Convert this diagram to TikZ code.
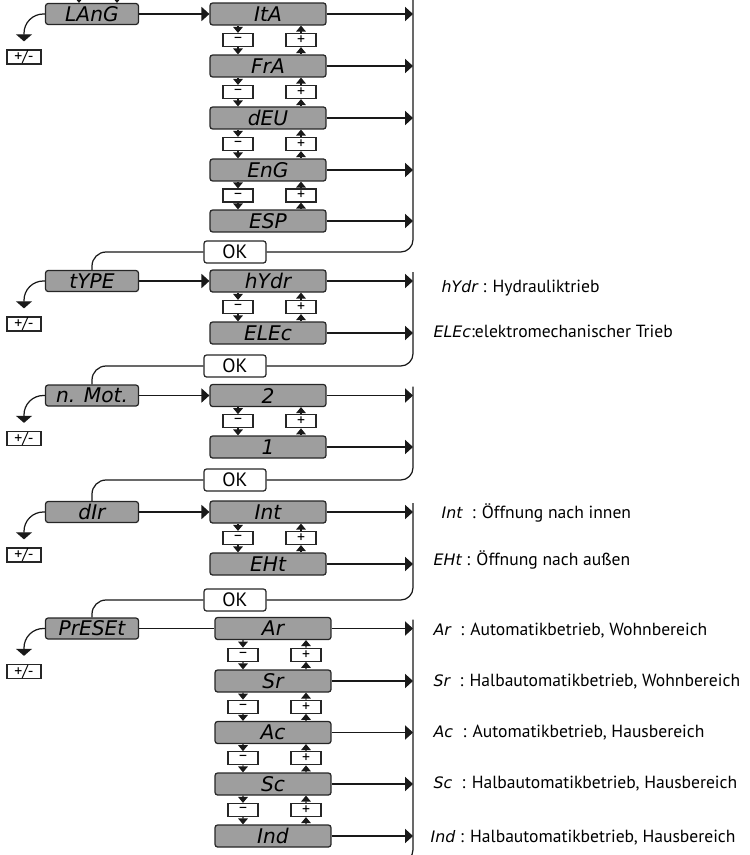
\documentclass[tikz,border=0pt]{standalone}
\usepackage{fontspec}
\setmainfont{PT Sans}
\newfontfamily\segfont{DejaVu Sans}
\usetikzlibrary{arrows.meta,calc,positioning}
\newcommand{\segsmall}{\segfont\itshape\fontsize{9}{10}\selectfont}

\begin{document}
\begin{tikzpicture}[x=0.02cm,y=-0.02cm,line width=0.7pt,black!90,
	menu/.style={draw=black!85,fill=black!38,rounded corners=1.5pt,minimum width=1.86cm,minimum height=0.42cm,inner sep=0pt,text=black,font=\segfont\itshape\fontsize{11.5}{12}\selectfont},
	value/.style={menu,minimum width=2.32cm,minimum height=0.44cm},
	key/.style={draw=black!85,fill=white,minimum width=0.6cm,minimum height=0.26cm,inner sep=0pt,text=black,font=\fontsize{9}{9}\selectfont},
	okbox/.style={draw=black!85,fill=white,rounded corners=1.5pt,minimum width=1.24cm,minimum height=0.44cm,inner sep=0pt,text=black,font=\fontsize{11}{11}\selectfont},
	pmbox/.style={key,minimum width=0.68cm,minimum height=0.28cm,font=\fontsize{9}{9}\selectfont},
	desc/.style={anchor=west,inner sep=0pt,text=black,font=\fontsize{10}{12}\selectfont},
	arr/.style={-{Triangle[length=4.5pt,width=8pt]}},
	tri/.style={-{Triangle[length=3.4pt,width=5.5pt]}},
	dn/.style={-{Triangle[length=4pt,width=9pt]}}]
	\useasboundingbox (0,0) rectangle (750,855);
	\coordinate (rx) at (413,0);
	% main menu
	\node[menu] (lang) at (92,14) {LAnG};
	\node[menu] (type) at (92,281) {tYPE};
	\node[menu] (nmot) at (92,395.5) {n. Mot.};
	\node[menu] (dir) at (92,512) {dIr};
	\node[menu] (preset) at (92,628.5) {PrESEt};
	% values
	\node[value] (ita) at (268,14) {ItA};
	\node[value] (fra) at (268,66) {FrA};
	\node[value] (deu) at (268,118) {dEU};
	\node[value] (eng) at (268,170) {EnG};
	\node[value] (esp) at (268,221) {ESP};
	\node[value] (hydr) at (268,281) {hYdr};
	\node[value] (elec) at (268,333) {ELEc};
	\node[value] (two) at (268,395.5) {2};
	\node[value] (one) at (268,447) {1};
	\node[value] (int) at (268,512) {Int};
	\node[value] (ext) at (268,564) {EHt};
	\node[value] (ar) at (273,628.5) {Ar};
	\node[value] (sr) at (273,681) {Sr};
	\node[value] (ac) at (273,732.5) {Ac};
	\node[value] (sc) at (273,784) {Sc};
	\node[value] (ind) at (273,836) {Ind};
	% OK keys
	\node[okbox] (ok1) at (235,252) {OK};
	\node[okbox] (ok2) at (235,366) {OK};
	\node[okbox] (ok3) at (235,480) {OK};
	\node[okbox] (ok4) at (235,600) {OK};
	% +/- keys
	\node[pmbox] (pm1) at (24,57) {+/-};
	\node[pmbox] (pm2) at (24,324) {+/-};
	\node[pmbox] (pm3) at (24,438.5) {+/-};
	\node[pmbox] (pm4) at (24,555) {+/-};
	\node[pmbox] (pm5) at (24,671.5) {+/-};
	\foreach \m/\p in {lang/pm1,type/pm2,nmot/pm3,dir/pm4,preset/pm5}
		\draw[dn,rounded corners=11pt] (\m.west) -| ($(\p.north)+(0,-8)$);
	% into the menu
	\draw[arr] (lang) -- (ita);
	\draw[arr] (type) -- (hydr);
	\draw[arr] (nmot) -- (two);
	\draw[arr] (dir) -- (int);
	\draw (preset) -- (ar);
	\draw[tri] ($(lang.north)+(-13,-12)$) -- ($(lang.north)+(-13,0)$);
	\draw[tri] ($(lang.north)+(25,-12)$) -- ($(lang.north)+(25,0)$);
	% - and + keys between values
	\foreach \a/\b in {ita/fra,fra/deu,deu/eng,eng/esp,hydr/elec,two/one,int/ext,ar/sr,sr/ac,ac/sc,sc/ind}{
		\node[key] (mi-\a) at ($(\a.south)!0.5!(\b.north)+(-30,0)$) {--};
		\node[key] (pl-\a) at ($(\a.south)!0.5!(\b.north)+(33,0)$) {+};
		\draw[tri] ($(\a.south)+(-30,0)$) -- (mi-\a);
		\draw[tri] (mi-\a) -- ($(\b.north)+(-30,0)$);
		\draw[tri] ($(\b.north)+(33,0)$) -- (pl-\a);
		\draw[tri] (pl-\a) -- ($(\a.south)+(33,0)$);
	}
	% exits to the right
	\foreach \v in {ita,fra,deu,eng,esp,hydr,elec,two,one,int,ext,ar,sr,ac,sc,ind}
		\draw[arr] (\v.east) -- (\v -| rx);
	\draw[rounded corners=7pt] ($(rx)+(0,-10)$) |- (ok1.east);
	\draw[rounded corners=7pt] ($(hydr -| rx)+(0,-9)$) |- (ok2.east);
	\draw[rounded corners=7pt] ($(two -| rx)+(0,-9)$) |- (ok3.east);
	\draw[rounded corners=7pt] ($(int -| rx)+(0,-9)$) |- (ok4.east);
	\draw[rounded corners=7pt] ($(ar -| rx)+(0,-9)$) |- ($(ind -| rx)+(-18,26)$);
	% OK leads to the next item
	\draw[rounded corners=8pt] (ok1.west) -| (type.north);
	\draw[rounded corners=8pt] (ok2.west) -| (nmot.north);
	\draw[rounded corners=8pt] (ok3.west) -| (dir.north);
	\draw[rounded corners=8pt] (ok4.west) -| (preset.north);
	% legend
	\node[desc] (d-hydr) at (441,288) {{\segsmall hYdr} : Hydrauliktrieb};
	\node[desc] (d-elec) at (433,331) {{\segsmall ELEc}:elektromechanischer Trieb};
	\node[desc] (d-int) at (441,513) {{\segsmall Int}\ \ : Öffnung nach innen};
	\node[desc] (d-ext) at (433,560) {{\segsmall EHt} : Öffnung nach außen};
	\node[desc] (d-ar) at (433,631) {{\segsmall Ar}\ \ : Automatikbetrieb, Wohnbereich};
	\node[desc] (d-sr) at (433,682) {{\segsmall Sr}\ \ : Halbautomatikbetrieb, Wohnbereich};
	\node[desc] (d-ac) at (433,733) {{\segsmall Ac}\ \ : Automatikbetrieb, Hausbereich};
	\node[desc] (d-sc) at (433,784) {{\segsmall Sc}\ \ : Halbautomatikbetrieb, Hausbereich};
	\node[desc] (d-ind) at (430,838) {{\segsmall Ind} : Halbautomatikbetrieb, Hausbereich};
\end{tikzpicture}
\end{document}
